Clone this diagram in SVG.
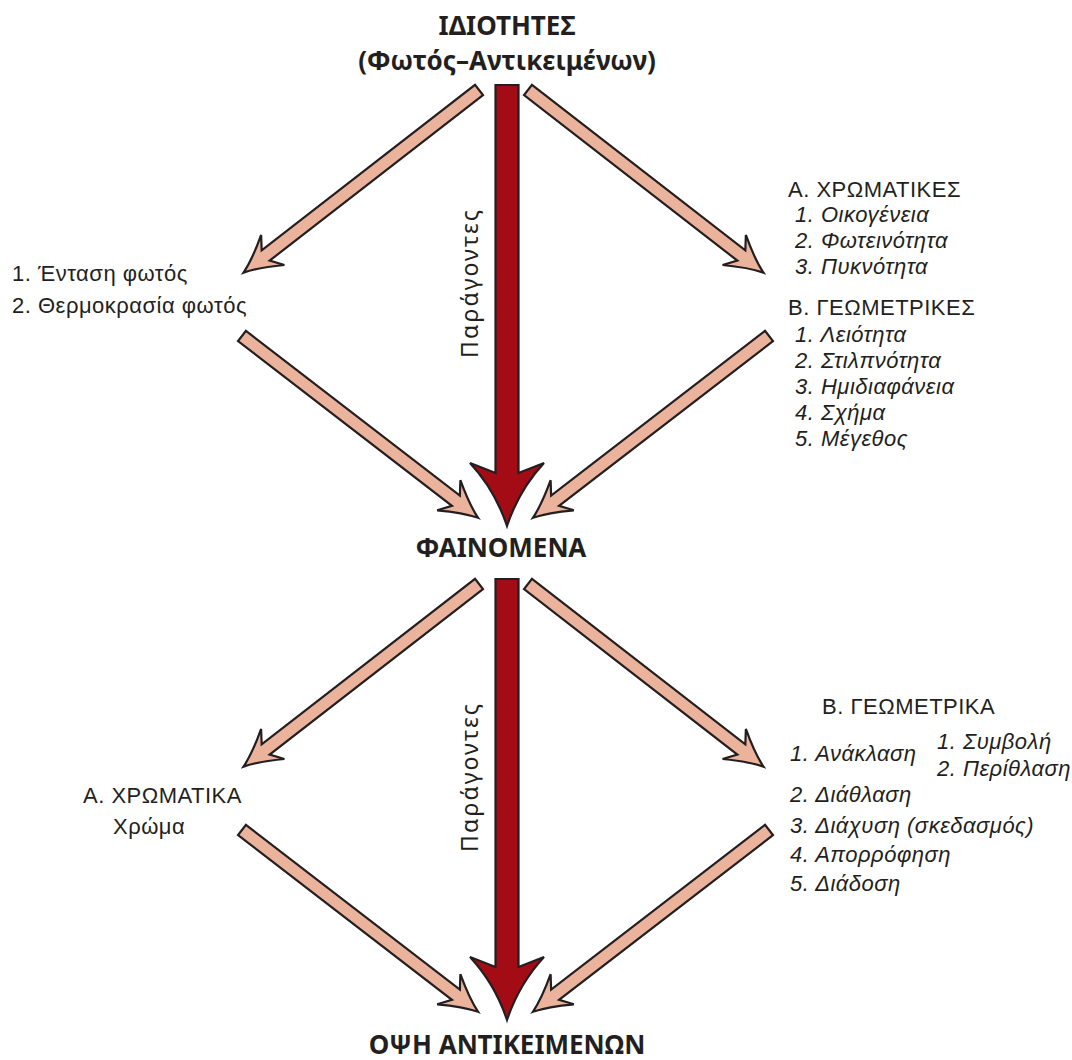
<svg xmlns="http://www.w3.org/2000/svg" xmlns:xlink="http://www.w3.org/1999/xlink" width="1072" height="1060" viewBox="0 0 1072 1060">
<style>
.t{font-family:"Liberation Sans","DejaVu Sans",sans-serif;fill:#231F20;font-size:22px;letter-spacing:0.5px}
.i{font-style:italic}
.h{font-family:"Noto Sans","DejaVu Sans",sans-serif;font-weight:bold;font-size:26px;text-anchor:middle}
.f{font-family:"Noto Sans","DejaVu Sans",sans-serif;font-size:23px}
.sal{fill:#EBB39C;stroke:#231F20;stroke-width:2.2;stroke-linejoin:miter}
.red{fill:#A30B15;stroke:#231F20;stroke-width:2.2;stroke-linejoin:miter}
</style>
<defs>
<path id="sa" d="M0,-6.5 H270 L261,-19 Q283,-5 298,0 Q283,5 261,19 L270,6.5 H0 Z"/>
<path id="ra" d="M495.5,85 H518.5 V473 L544,463 Q519,490 507,526 Q495,490 470,463 L495.5,473 Z"/>
</defs>
<rect width="1072" height="1060" fill="#fff"/>
<g id="connectors">
<use xlink:href="#ra" href="#ra" class="red"/>
<use xlink:href="#sa" href="#sa" class="sal" transform="translate(479,90) rotate(142.2)"/>
<use xlink:href="#sa" href="#sa" class="sal" transform="translate(528,90) rotate(37.8)"/>
<use xlink:href="#sa" href="#sa" class="sal" transform="translate(242,336) rotate(37.6)"/>
<use xlink:href="#sa" href="#sa" class="sal" transform="translate(769,336) rotate(142.4)"/>
<g transform="translate(0,494)">
<use xlink:href="#ra" href="#ra" class="red"/>
<use xlink:href="#sa" href="#sa" class="sal" transform="translate(479,90) rotate(142.2)"/>
<use xlink:href="#sa" href="#sa" class="sal" transform="translate(528,90) rotate(37.8)"/>
<use xlink:href="#sa" href="#sa" class="sal" transform="translate(242,336) rotate(37.6)"/>
<use xlink:href="#sa" href="#sa" class="sal" transform="translate(769,336) rotate(142.4)"/>
</g>
<text class="f" fill="#231F20" transform="translate(478,284) rotate(-90)" text-anchor="middle" textLength="148">Παράγοντες</text>
<text class="f" fill="#231F20" transform="translate(478,778) rotate(-90)" text-anchor="middle" textLength="148">Παράγοντες</text>
</g>
<g id="idiotites">
<text class="h" fill="#231F20" x="507" y="35">ΙΔΙΟΤΗΤΕΣ</text>
<text class="h" fill="#231F20" x="507" y="70">(Φωτός–Αντικειμένων)</text>
</g>
<g id="fos">
<text class="t" x="12" y="281">1. Ένταση φωτός</text>
<text class="t" x="12" y="313">2. Θερμοκρασία φωτός</text>
</g>
<g id="antikeimena">
<text class="t" x="788" y="197">Α. ΧΡΩΜΑΤΙΚΕΣ</text>
<text class="t i" x="795" y="222">1. Οικογένεια</text>
<text class="t i" x="795" y="248">2. Φωτεινότητα</text>
<text class="t i" x="795" y="274">3. Πυκνότητα</text>
<text class="t" x="788" y="315">Β. ΓΕΩΜΕΤΡΙΚΕΣ</text>
<text class="t i" x="795" y="342">1. Λειότητα</text>
<text class="t i" x="795" y="368">2. Στιλπνότητα</text>
<text class="t i" x="795" y="394">3. Ημιδιαφάνεια</text>
<text class="t i" x="795" y="420">4. Σχήμα</text>
<text class="t i" x="795" y="446">5. Μέγεθος</text>
</g>
<g id="fainomena">
<text class="h" fill="#231F20" x="501" y="557">ΦΑΙΝΟΜΕΝΑ</text>
</g>
<g id="chromatika">
<text class="t" x="83" y="803">Α. ΧΡΩΜΑΤΙΚΑ</text>
<text class="t" x="113" y="834">Χρώμα</text>
</g>
<g id="geometrika">
<text class="t" x="822" y="714">Β. ΓΕΩΜΕΤΡΙΚΑ</text>
<text class="t i" x="790" y="761">1. Ανάκλαση</text>
<text class="t i" x="937" y="749">1. Συμβολή</text>
<text class="t i" x="937" y="776">2. Περίθλαση</text>
<text class="t i" x="790" y="802">2. Διάθλαση</text>
<text class="t i" x="790" y="833">3. Διάχυση (σκεδασμός)</text>
<text class="t i" x="790" y="862">4. Απορρόφηση</text>
<text class="t i" x="790" y="891">5. Διάδοση</text>
</g>
<g id="opsi">
<text class="h" fill="#231F20" x="507" y="1054">ΟΨΗ ΑΝΤΙΚΕΙΜΕΝΩΝ</text>
</g>
</svg>
